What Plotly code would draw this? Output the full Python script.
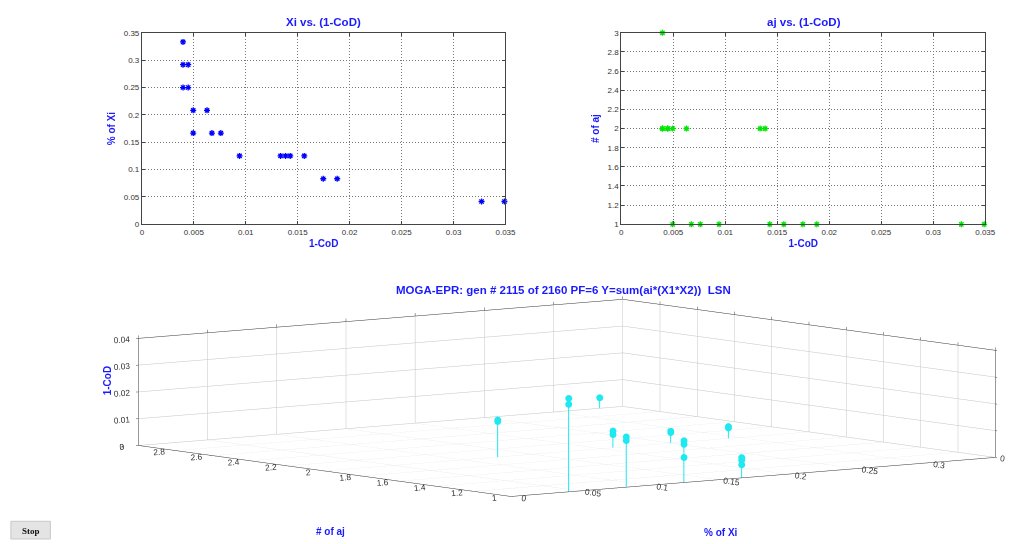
import numpy as np
import plotly.graph_objects as go

# Pareto front solutions: model error (1-CoD), share of inputs used, number of terms
one_minus_cod = [0.00396, 0.00396, 0.00446, 0.00396, 0.00446, 0.00494, 0.00627,
                 0.00494, 0.00674, 0.00760, 0.00940, 0.01335, 0.01383, 0.01428,
                 0.01563, 0.01746, 0.01880, 0.03270, 0.03490]
pct_xi = [0.3333, 0.2917, 0.2917, 0.2500, 0.2500, 0.2083, 0.2083,
          0.1667, 0.1667, 0.1667, 0.1250, 0.1250, 0.1250, 0.1250,
          0.1250, 0.0833, 0.0833, 0.0417, 0.0417]
n_aj = [3, 2, 2, 2, 2, 2, 2,
        1, 1, 1, 1, 2, 2, 1,
        1, 1, 1, 1, 1]

cod_ticks = [0, 0.005, 0.01, 0.015, 0.02, 0.025, 0.03, 0.035]
cod_ticklabels = ["0", "0.005", "0.01", "0.015", "0.02", "0.025", "0.03", "0.035"]
xi_ticks = [0, 0.05, 0.1, 0.15, 0.2, 0.25, 0.3, 0.35]
xi_ticklabels = ["0", "0.05", "0.1", "0.15", "0.2", "0.25", "0.3", "0.35"]
aj_ticks = [1, 1.2, 1.4, 1.6, 1.8, 2, 2.2, 2.4, 2.6, 2.8, 3]
aj_ticklabels = ["1", "1.2", "1.4", "1.6", "1.8", "2", "2.2", "2.4", "2.6", "2.8", "3"]
z_ticks = [0, 0.01, 0.02, 0.03, 0.04]
z_ticklabels = ["0", "0.01", "0.02", "0.03", "0.04"]

main_title = "MOGA-EPR: gen # 2115 of 2160 PF=6 Y=sum(ai*(X1*X2))  LSN"

W, H = 1016, 544
BLUE = "#1a1aff"
TICK_FONT = dict(family="Liberation Sans, Arial, sans-serif", size=8, color="#333333")
TICK_FONT_3D = dict(family="Liberation Sans, Arial, sans-serif", size=10, color="#333333")
LABEL_FONT = dict(family="Liberation Sans, Arial, sans-serif", size=10, color=BLUE, weight="bold")
TITLE_FONT = dict(family="Liberation Sans, Arial, sans-serif", size=11.5, color=BLUE, weight="bold")

fig = go.Figure()

# 2-D views of the front
fig.add_trace(go.Scatter(
    x=one_minus_cod, y=pct_xi, mode="markers", cliponaxis=False,
    marker=dict(symbol="asterisk-open", size=5, color="#0000ff",
                line=dict(color="#0000ff", width=1.3)),
    xaxis="x", yaxis="y", showlegend=False, hoverinfo="skip"))
fig.add_trace(go.Scatter(
    x=one_minus_cod, y=n_aj, mode="markers", cliponaxis=False,
    marker=dict(symbol="asterisk-open", size=5, color="#00e600",
                line=dict(color="#00e600", width=1.3)),
    xaxis="x2", yaxis="y2", showlegend=False, hoverinfo="skip"))

# stem plot in 3-D
sx, sy, sz = [], [], []
for xv, yv, zv in zip(pct_xi, n_aj, one_minus_cod):
    sx += [xv, xv, None]
    sy += [yv, yv, None]
    sz += [0, zv, None]
fig.add_trace(go.Scatter3d(
    x=sx, y=sy, z=sz, mode="lines",
    line=dict(color="#1ee8f0", width=2),
    scene="scene", showlegend=False, hoverinfo="skip"))
fig.add_trace(go.Scatter3d(
    x=pct_xi, y=n_aj, z=one_minus_cod, mode="markers",
    marker=dict(color="#1ee8f0", size=4, line=dict(width=0)),
    scene="scene", showlegend=False, hoverinfo="skip"))

def ax2d(domain, ticks, labels, rng, title=None, standoff=4):
    d = dict(domain=domain, range=rng, tickvals=ticks, ticktext=labels,
             showgrid=True, gridcolor="#777777", griddash="1px,2px", gridwidth=1,
             showline=True, linecolor="#444444", linewidth=1, mirror="ticks",
             ticks="inside", ticklen=3, tickcolor="#444444",
             zeroline=False, tickfont=TICK_FONT, fixedrange=True)
    if title:
        d["title"] = dict(text=title, font=LABEL_FONT, standoff=standoff)
    return d

ydom = [(H - 224) / H, (H - 29.3) / H]
fig.update_layout(
    xaxis=ax2d([141.7 / W, 510 / W], cod_ticks, cod_ticklabels, [0, 0.035], "1-CoD"),
    yaxis=ax2d(ydom, xi_ticks, xi_ticklabels, [0, 0.35], "% of Xi", 6),
    xaxis2=ax2d([627.3 / W, 996 / W], cod_ticks, cod_ticklabels, [0, 0.035], "1-CoD"),
    yaxis2=ax2d(ydom, aj_ticks, aj_ticklabels, [1, 3], "# of aj", 6),
)
fig.layout.xaxis2.anchor = "y2"
fig.layout.yaxis2.anchor = "x2"

# low, wide orthographic view of the stem plot
az_deg, el_deg = 232.5, 6.03
dist = 8.0
box_scale = 4.24
az, el = np.radians(az_deg), np.radians(el_deg)
view_dir = np.array([np.cos(el) * np.cos(az), np.cos(el) * np.sin(az), np.sin(el)])
screen_right = np.array([-np.sin(az), np.cos(az), 0.0])
screen_up = np.array([-np.sin(el) * np.cos(az), -np.sin(el) * np.sin(az), np.cos(el)])
# pan the box to the right and slightly down inside the scene viewport
pan = -0.44 * screen_right + 0.02 * screen_up
center = dict(x=pan[0], y=pan[1], z=pan[2])
eye_v = pan + dist * view_dir
eye = dict(x=eye_v[0], y=eye_v[1], z=eye_v[2])

def ax3d(ticks, labels, rng):
    return dict(title=dict(text=""), range=rng,
                tickvals=ticks, ticktext=labels, tickfont=TICK_FONT_3D,
                showgrid=True, gridcolor="#c4c4c4", gridwidth=1,
                showline=True, linecolor="#333333", linewidth=1, mirror="all",
                showbackground=False, zeroline=False, showspikes=False,
                ticks="outside", ticklen=3, tickcolor="#444444")

fig.update_layout(
    scene=dict(
        domain=dict(x=[0.0, 1.0], y=[0.0, 0.5386]),
        xaxis=ax3d(xi_ticks, xi_ticklabels, [0, 0.35]),
        yaxis=ax3d(aj_ticks, aj_ticklabels, [1, 3]),
        zaxis=ax3d(z_ticks, z_ticklabels, [0, 0.04]),
        aspectmode="manual",
        aspectratio=dict(x=1 * box_scale, y=1.0023 * box_scale, z=0.1764 * box_scale),
        camera=dict(eye=eye, up=dict(x=0, y=0, z=1), center=center,
                    projection=dict(type="orthographic")),
        dragmode=False,
    ),
    width=W, height=H, margin=dict(l=0, r=0, t=0, b=0),
    paper_bgcolor="white", plot_bgcolor="white",
    showlegend=False,
    annotations=[
        dict(text="Xi vs. (1-CoD)", x=326 / W, y=1 - 18 / H, xref="paper", yref="paper",
             showarrow=False, font=TITLE_FONT, xanchor="center", yanchor="middle"),
        dict(text="aj vs. (1-CoD)", x=812 / W, y=1 - 18 / H, xref="paper", yref="paper",
             showarrow=False, font=TITLE_FONT, xanchor="center", yanchor="middle"),
        dict(text=main_title, x=569 / W, y=1 - 291 / H, xref="paper", yref="paper",
             showarrow=False, font=TITLE_FONT, xanchor="center", yanchor="middle"),
        # axis titles of the 3-D view
        dict(text="1-CoD", x=107 / W, y=1 - 383 / H, xref="paper", yref="paper", textangle=-90,
             showarrow=False, font=LABEL_FONT, xanchor="center", yanchor="middle"),
        dict(text="# of aj", x=333 / W, y=1 - 536 / H, xref="paper", yref="paper",
             showarrow=False, font=LABEL_FONT, xanchor="center", yanchor="middle"),
        dict(text="% of Xi", x=728 / W, y=1 - 537 / H, xref="paper", yref="paper",
             showarrow=False, font=LABEL_FONT, xanchor="center", yanchor="middle"),
        dict(text="<b>Stop</b>", x=29 / W, y=1 - 536 / H, xref="paper", yref="paper",
             showarrow=False, font=dict(family="Liberation Serif, serif", size=9, color="#111111"),
             xanchor="center", yanchor="middle"),
    ],
    shapes=[
        dict(type="rect", xref="paper", yref="paper",
             x0=9 / W, x1=49 / W, y0=1 - 544 / H, y1=1 - 526 / H,
             fillcolor="#e4e4e4", line=dict(color="#c8c8c8", width=1), layer="below"),
    ],
)

fig.write_html("out.html", config={"displayModeBar": False})
